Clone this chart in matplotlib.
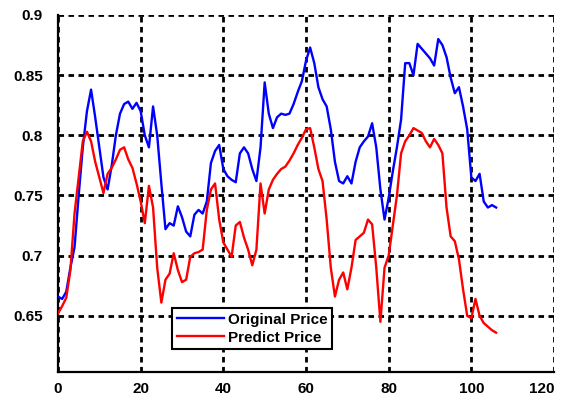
import matplotlib
matplotlib.use("Agg")
import matplotlib.pyplot as plt
import numpy as np

original_price = [0.666, 0.664, 0.670, 0.690, 0.707, 0.750, 0.790, 0.820, 0.838, 0.815,
                  0.790, 0.765, 0.755, 0.775, 0.800, 0.818, 0.826, 0.828, 0.822, 0.827,
                  0.820, 0.800, 0.790, 0.824, 0.800, 0.760, 0.722, 0.727, 0.725, 0.741,
                  0.732, 0.720, 0.716, 0.734, 0.738, 0.735, 0.745, 0.777, 0.787, 0.792,
                  0.772, 0.766, 0.763, 0.761, 0.785, 0.790, 0.785, 0.772, 0.762, 0.790,
                  0.844, 0.818, 0.806, 0.815, 0.818, 0.817, 0.818, 0.826, 0.836, 0.845,
                  0.862, 0.873, 0.860, 0.840, 0.830, 0.824, 0.805, 0.778, 0.762, 0.760,
                  0.766, 0.760, 0.778, 0.790, 0.795, 0.799, 0.810, 0.790, 0.755, 0.730,
                  0.748, 0.770, 0.790, 0.813, 0.860, 0.860, 0.850, 0.876, 0.872, 0.868,
                  0.864, 0.858, 0.880, 0.875, 0.865, 0.848, 0.835, 0.840, 0.824, 0.805,
                  0.765, 0.762, 0.768, 0.745, 0.740, 0.742, 0.740]

predict_price = [0.652, 0.658, 0.665, 0.688, 0.735, 0.765, 0.795, 0.803, 0.795, 0.778,
                 0.765, 0.752, 0.768, 0.773, 0.780, 0.788, 0.790, 0.780, 0.773, 0.760,
                 0.745, 0.727, 0.758, 0.740, 0.690, 0.661, 0.680, 0.685, 0.702, 0.688,
                 0.678, 0.680, 0.699, 0.702, 0.703, 0.705, 0.738, 0.755, 0.760, 0.730,
                 0.711, 0.705, 0.699, 0.725, 0.728, 0.715, 0.705, 0.692, 0.705, 0.760,
                 0.735, 0.755, 0.763, 0.768, 0.772, 0.774, 0.779, 0.785, 0.792, 0.798,
                 0.805, 0.806, 0.790, 0.772, 0.762, 0.730, 0.690, 0.666, 0.680, 0.686,
                 0.672, 0.690, 0.713, 0.716, 0.719, 0.730, 0.726, 0.690, 0.645, 0.690,
                 0.700, 0.725, 0.750, 0.785, 0.795, 0.800, 0.806, 0.804, 0.802, 0.795,
                 0.790, 0.797, 0.792, 0.785, 0.740, 0.716, 0.712, 0.697, 0.672, 0.650,
                 0.648, 0.664, 0.650, 0.644, 0.641, 0.638, 0.636]

x_ticks = [0, 20, 40, 60, 80, 100, 120]
y_ticks = [0.65, 0.7, 0.75, 0.8, 0.85, 0.9]
y_tick_labels = ["0.65", "0.7", "0.75", "0.8", "0.85", "0.9"]

plt.rcParams['font.family'] = ['Liberation Sans', 'DejaVu Sans']

fig = plt.figure(figsize=(5.62, 4.01), dpi=100)
ax = fig.add_axes([58/562, 1 - 372/401, (554 - 58)/562, (372 - 15)/401])

idx = np.arange(len(original_price))
ax.plot(idx, original_price, color='#0000ff', lw=1.7, label='Original Price', zorder=3)
ax.plot(idx, predict_price, color='#ff0000', lw=1.7, label='Predict Price', zorder=3)

ax.set_xlim(0, 120)
ax.set_ylim(0.6033, 0.9)
ax.set_xticks(x_ticks)
ax.set_yticks(y_ticks)
ax.set_yticklabels(y_tick_labels)

for lbl in ax.get_xticklabels() + ax.get_yticklabels():
    lbl.set_fontweight('bold')
    lbl.set_fontsize(11)
ax.get_xticklabels()[-1].set_horizontalalignment('right')

ax.tick_params(axis='both', length=0)
ax.tick_params(axis='y', pad=11)
ax.tick_params(axis='x', pad=7)

ax.grid(True, color='black', linestyle=(0, (2, 1.6)), linewidth=2.0, zorder=1)
ax.set_axisbelow(True)

for s in ['top', 'right']:
    ax.spines[s].set_visible(False)
for s in ['left', 'bottom']:
    ax.spines[s].set_linewidth(1.6)
    ax.spines[s].set_color('black')

leg = ax.legend(loc='lower left', bbox_to_anchor=(0.23, 0.064), frameon=True,
                fancybox=False, framealpha=1, edgecolor='black',
                prop={'size': 11, 'weight': 'bold'},
                handlelength=3.1, borderpad=0.3, labelspacing=0.25, handletextpad=0.25,
                borderaxespad=0)
leg.get_frame().set_linewidth(1.5)

fig.savefig('out.png', dpi=100)
